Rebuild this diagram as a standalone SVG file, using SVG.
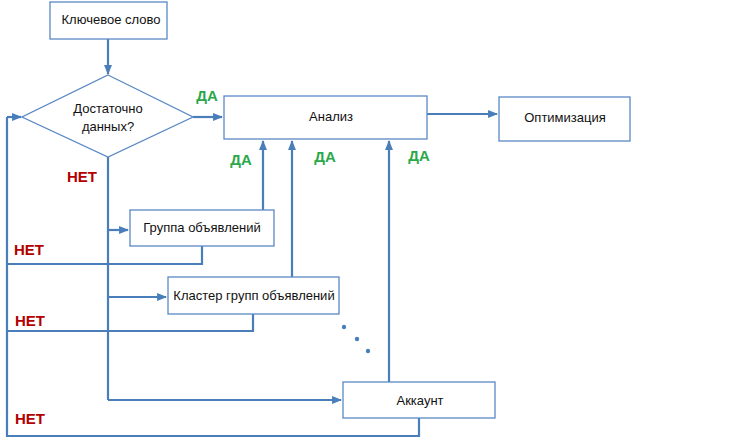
<svg xmlns="http://www.w3.org/2000/svg" width="731" height="443" viewBox="0 0 731 443">
<defs>
<marker id="arr" viewBox="0 0 10 10" refX="9" refY="5" markerWidth="4.5" markerHeight="4.5" orient="auto" markerUnits="strokeWidth">
<path d="M0,1 L10,5 L0,9 z" fill="#4a7ebb"/>
</marker>
<style>
.box{fill:#fff;stroke:#5a88c5;stroke-width:1.3}
.t{font-family:"Liberation Sans",Arial,sans-serif;font-size:13px;fill:#111;text-anchor:middle;dominant-baseline:middle}
.c{fill:none;stroke:#4a7ebb;stroke-width:2.2}
.a{marker-end:url(#arr)}
.yes{font-family:"Liberation Sans",Arial,sans-serif;font-size:15px;font-weight:bold;fill:#2aa84a;text-anchor:middle;dominant-baseline:middle}
.no{font-family:"Liberation Sans",Arial,sans-serif;font-size:15px;font-weight:bold;fill:#b30000;text-anchor:middle;dominant-baseline:middle}
</style>
</defs>
<rect width="731" height="443" fill="#fff"/>
<g id="connectors">
<path class="c a" d="M108,39 V74"/>
<path class="c a" d="M193,117 H222"/>
<path class="c a" d="M427,114 H497"/>
<path class="c" d="M108,157 V400"/>
<path class="c a" d="M108,400 H341"/>
<path class="c a" d="M108,230 H128"/>
<path class="c a" d="M108,297 H166"/>
<path class="c a" d="M263,210 V141"/>
<path class="c a" d="M292,277 V141"/>
<path class="c a" d="M389,382 V141"/>
<path class="c" d="M202,246 V264 H7"/>
<path class="c" d="M253,314 V331 H7"/>
<path class="c" d="M419,418 V436 H7 V117"/>
<path class="c a" d="M7,117 H21"/>
<circle cx="344" cy="327" r="2.2" fill="#4a7ebb"/>
<circle cx="357" cy="339" r="2.2" fill="#4a7ebb"/>
<circle cx="368" cy="351" r="2.2" fill="#4a7ebb"/>
</g>
<g id="n-keyword">
<rect class="box" x="50" y="2" width="117" height="37"/>
<text class="t" x="111" y="21">Ключевое слово</text>
</g>
<g id="n-decision">
<polygon class="box" points="108,75 193,117 108,157 22,117"/>
<text class="t" x="108" y="110">Достаточно</text>
<text class="t" x="108" y="128">данных?</text>
</g>
<g id="n-analysis">
<rect class="box" x="224" y="96" width="203" height="43"/>
<text class="t" x="331" y="118">Анализ</text>
</g>
<g id="n-opt">
<rect class="box" x="499" y="97" width="131" height="44"/>
<text class="t" x="565" y="119">Оптимизация</text>
</g>
<g id="n-group">
<rect class="box" x="130" y="210" width="144" height="36"/>
<text class="t" x="202" y="229">Группа объявлений</text>
</g>
<g id="n-cluster">
<rect class="box" x="168" y="277" width="171" height="37"/>
<text class="t" x="254" y="297">Кластер групп объявлений</text>
</g>
<g id="n-account">
<rect class="box" x="343" y="382" width="152" height="36"/>
<text class="t" x="420" y="402">Аккаунт</text>
</g>
<g id="labels">
<text class="yes" x="207" y="97">ДА</text>
<text class="yes" x="241" y="161">ДА</text>
<text class="yes" x="325" y="158">ДА</text>
<text class="yes" x="419" y="157">ДА</text>
<text class="no" x="82" y="178">НЕТ</text>
<text class="no" x="29" y="251">НЕТ</text>
<text class="no" x="30" y="322">НЕТ</text>
<text class="no" x="30" y="420">НЕТ</text>
</g>
</svg>
